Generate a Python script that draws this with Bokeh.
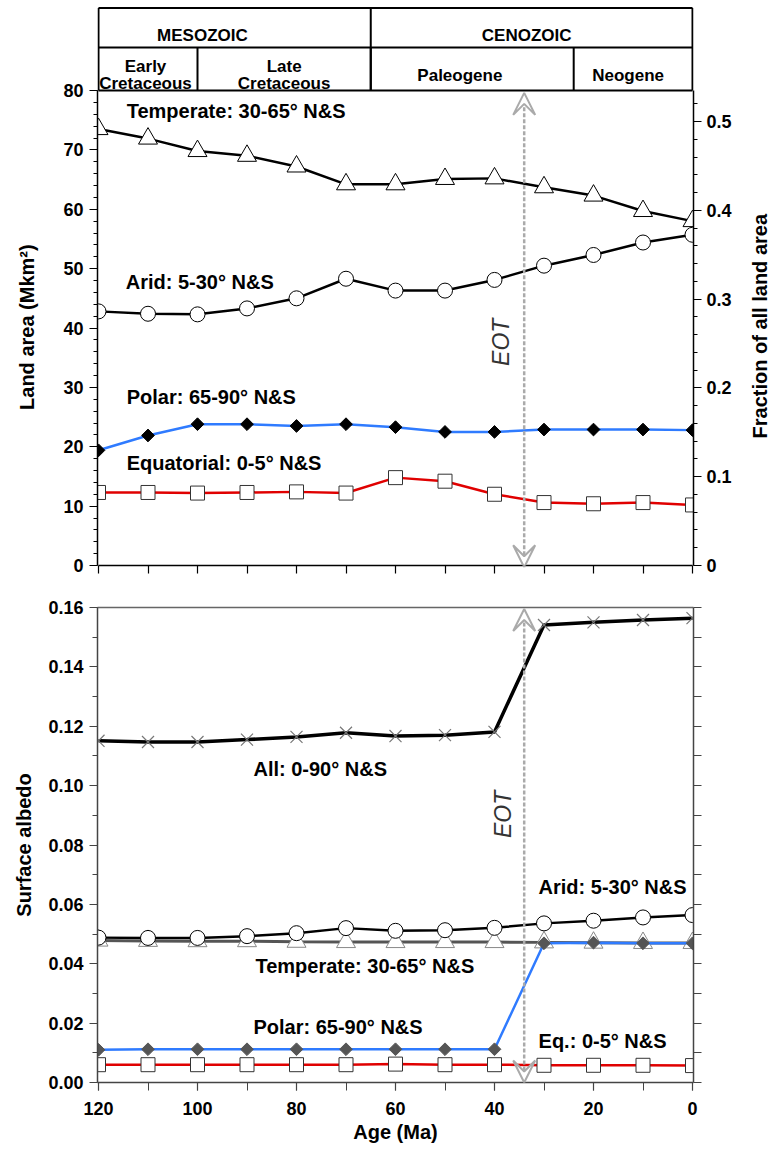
import math
from bokeh.plotting import figure
from bokeh.layouts import column, row
from bokeh.models import (Range1d, LinearAxis, FixedTicker, NumeralTickFormatter,
                          CustomJSTickFormatter, Arrow, VeeHead)
from bokeh.core.properties import value
from bokeh.embed import file_html
from bokeh.resources import INLINE

# ---------------- data ----------------
ages = [120, 110, 100, 90, 80, 70, 60, 50, 40, 30, 20, 10, 0]

# Land area (Mkm2)
area_temperate = [73.5, 71.9, 69.8, 69.0, 67.2, 64.2, 64.2, 65.1, 65.2, 63.7, 62.3, 59.7, 58.0]
area_arid = [42.8, 42.4, 42.3, 43.3, 45.0, 48.3, 46.3, 46.3, 48.1, 50.5, 52.3, 54.4, 55.7]
area_polar = [19.4, 21.9, 23.8, 23.8, 23.5, 23.8, 23.3, 22.5, 22.5, 22.9, 22.9, 22.9, 22.8]
area_equatorial = [12.3, 12.3, 12.2, 12.3, 12.4, 12.2, 14.8, 14.2, 12.0, 10.6, 10.4, 10.6, 10.2]

# Surface albedo
alb_all = [0.1151, 0.1147, 0.1147, 0.1155, 0.1164, 0.1178, 0.1167, 0.1170, 0.1181, 0.1541, 0.1550, 0.1558, 0.1564]
alb_arid = [0.0488, 0.0487, 0.0487, 0.0493, 0.0503, 0.0520, 0.0511, 0.0513, 0.0521, 0.0536, 0.0545, 0.0556, 0.0564]
alb_temperate = [0.0478, 0.0477, 0.0476, 0.0476, 0.0474, 0.0473, 0.0473, 0.0473, 0.0473, 0.0472, 0.0471, 0.0470, 0.0470]
alb_polar = [0.0110, 0.0112, 0.0112, 0.0112, 0.0112, 0.0112, 0.0112, 0.0112, 0.0112, 0.0469, 0.0471, 0.0469, 0.0469]
alb_equatorial = [0.0060, 0.0060, 0.0060, 0.0060, 0.0060, 0.0060, 0.0062, 0.0060, 0.0060, 0.0058, 0.0058, 0.0058, 0.0057]

eot_age = 34

# geological time scale header
era_names = ["MESOZOIC", "CENOZOIC"]
era_label_x = [99.0, 33.5]
era_divider = 65
period_line1 = ["Early", "Late", "Paleogene", "Neogene"]
period_line2 = ["Cretaceous", "Cretaceous", "", ""]
period_label_x = [110.5, 82.5, 47.0, 13.0]
period_dividers = [100, 65, 24]

# right-axis scale: fraction of all land area (0.5 <-> 74.74 Mkm2)
frac_per_area = 0.5 / 74.74

FONT = "Liberation Sans"
W = 770
TOP_H = 595
TL_W, TR_W = 40, 30
PAD = 1 / 4.95
x_lo, x_hi = 120 + PAD, -PAD


def style_axis(ax, color="black"):
    ax.axis_line_color = color
    ax.axis_line_width = 1.5
    ax.major_tick_line_color = color
    ax.minor_tick_line_color = color
    ax.major_tick_line_width = 1.2
    ax.minor_tick_line_width = 1.0
    ax.major_tick_in = 0
    ax.major_tick_out = 8
    ax.minor_tick_in = 0
    ax.minor_tick_out = 4
    ax.major_label_text_font = FONT
    ax.major_label_text_font_style = "bold"
    ax.major_label_text_font_size = "18px"
    ax.major_label_text_color = "black"
    ax.axis_label_text_font = FONT
    ax.axis_label_text_font_style = "bold"
    ax.axis_label_text_font_size = "20px"
    ax.axis_label_text_color = "black"


def title_strip(width, height, tx, ty, text):
    f = figure(width=width, height=height, x_range=Range1d(0, width), y_range=Range1d(0, height),
               output_backend="svg", toolbar_location=None, x_axis_location=None, y_axis_location=None,
               min_border=0, outline_line_color=None, background_fill_color="white",
               border_fill_color="white")
    f.grid.visible = False
    f.text(x=[tx], y=[ty], text=[text], angle=math.pi / 2, text_font=value(FONT),
           text_font_style="bold", text_font_size="20px", text_align="center",
           text_baseline="middle", text_color="black")
    return f


# ---------------- top panel ----------------
y_top_end = 565 / 5.9375
p1 = figure(width=W - TL_W - TR_W, height=TOP_H, x_range=Range1d(x_lo, x_hi), y_range=Range1d(0, y_top_end),
            output_backend="svg", toolbar_location=None,
            min_border_left=97 - TL_W, min_border_right=(W - TR_W) - 693, min_border_top=0, min_border_bottom=30,
            background_fill_color="white", border_fill_color="white", outline_line_color=None)
p1.grid.visible = False

yl = p1.yaxis[0]
style_axis(yl)
yl.ticker = FixedTicker(ticks=list(range(0, 81, 10)), minor_ticks=list(range(0, 81, 2)))
yl.bounds = (0, 80)
yl.major_label_standoff = 6

p1.extra_y_ranges = {"frac": Range1d(0, y_top_end * frac_per_area)}
yr = LinearAxis(y_range_name="frac",
                ticker=FixedTicker(ticks=[0, 0.1, 0.2, 0.3, 0.4, 0.5],
                                   minor_ticks=[round(i * 0.02, 2) for i in range(27)]),
                formatter=NumeralTickFormatter(format="0.[0]"))
style_axis(yr)
yr.bounds = (0, 80 * frac_per_area)
yr.major_label_standoff = 5
p1.add_layout(yr, "right")

xb = p1.xaxis[0]
style_axis(xb)
xb.ticker = FixedTicker(ticks=ages)
xb.bounds = (0, 120)
xb.formatter = CustomJSTickFormatter(code="return '';")
xb.major_label_text_font_size = "0px"

# header lines
y_top_line = 93.89
y_mid_line = 87.24
p1.segment(x0=[120, 120], y0=[y_top_line, y_mid_line], x1=[0, 0], y1=[y_top_line, y_mid_line],
           line_color="black", line_width=2)
p1.segment(x0=[120], y0=[80], x1=[0], y1=[80], line_color="black", line_width=2)
p1.segment(x0=[120, 0, era_divider], y0=[80, 80, 80], x1=[120, 0, era_divider],
           y1=[y_top_line] * 3, line_color="black", line_width=2)
p1.segment(x0=period_dividers, y0=[80] * 3, x1=period_dividers, y1=[y_mid_line] * 3,
           line_color="black", line_width=2)

hdr = dict(text_font=value(FONT), text_font_style="bold", text_font_size="17px",
           text_align="center", text_baseline="alphabetic", text_color="black")
p1.text(x=era_label_x, y=[89.26, 89.26], text=era_names, **hdr)
two = [i for i, t in enumerate(period_line2) if t]
one = [i for i, t in enumerate(period_line2) if not t]
p1.text(x=[period_label_x[i] for i in two], y=[84.04] * len(two), text=[period_line1[i] for i in two], **hdr)
p1.text(x=[period_label_x[i] for i in two], y=[81.18] * len(two), text=[period_line2[i] for i in two], **hdr)
p1.text(x=[period_label_x[i] for i in one], y=[82.53] * len(one), text=[period_line1[i] for i in one], **hdr)


# EOT arrow
def vee():
    return VeeHead(size=22, fill_color="white", line_color="#aaaaaa", line_width=2)


p1.add_layout(Arrow(start=vee(), end=vee(), x_start=eot_age, y_start=-0.3, x_end=eot_age, y_end=79.6,
                    line_color="#aaaaaa", line_width=2.5, line_dash="4 2"))

# series
p1.line(ages, area_temperate, line_color="black", line_width=2.5)
p1.scatter(ages, area_temperate, marker="triangle", size=19, fill_color="white", line_color="black", line_width=1)
p1.line(ages, area_arid, line_color="black", line_width=2.5)
p1.scatter(ages, area_arid, marker="circle", size=15, fill_color="white", line_color="black", line_width=1)
p1.line(ages, area_polar, line_color="#2f7bff", line_width=2.5)
p1.scatter(ages, area_polar, marker="square", angle=math.pi / 4, size=9, fill_color="black", line_color="black")
p1.line(ages, area_equatorial, line_color="#e00000", line_width=2.5)
p1.scatter(ages, area_equatorial, marker="square", size=14, fill_color="white", line_color="#333333", line_width=1)

lab = dict(text_font=value(FONT), text_font_style="bold", text_font_size="20px",
           text_align="left", text_baseline="middle", text_color="black")
p1.text(x=[114.3, 114.5, 114.3, 114.3], y=[76.5, 47.7, 28.3, 17.3],
        text=["Temperate: 30-65° N&S", "Arid: 5-30° N&S", "Polar: 65-90° N&S", "Equatorial: 0-5° N&S"], **lab)
p1.text(x=[38.6], y=[37.6], text=["EOT"], angle=math.pi / 2, text_font=value(FONT),
        text_font_style="italic", text_font_size="23px", text_align="center", text_baseline="middle",
        text_color="#333333")

tl = title_strip(TL_W, TOP_H, 26, TOP_H - 344, "Land area (Mkm²)")
tr = title_strip(TR_W, TOP_H, 759 - (W - TR_W), TOP_H - 343, "Fraction of all land area")

# ---------------- bottom panel ----------------
p2 = figure(width=W, height=555, x_range=Range1d(x_lo, x_hi), y_range=Range1d(0, 0.16),
            output_backend="svg", toolbar_location=None,
            min_border_left=97, min_border_right=W - 693, min_border_top=12, min_border_bottom=68,
            background_fill_color="white", border_fill_color="white", outline_line_color=None)
p2.grid.visible = False

yl2 = p2.yaxis[0]
style_axis(yl2, "#444444")
yl2.ticker = FixedTicker(ticks=[round(i * 0.02, 2) for i in range(9)],
                         minor_ticks=[round(i * 0.01, 2) for i in range(17)])
yl2.formatter = NumeralTickFormatter(format="0.00")
yl2.minor_tick_out = 5
yl2.major_label_standoff = 6
yl2.axis_label = "Surface albedo"
yl2.axis_label_standoff = 10

yr2 = LinearAxis(ticker=FixedTicker(ticks=[round(i * 0.01, 2) for i in range(17)]),
                 formatter=CustomJSTickFormatter(code="return '';"))
style_axis(yr2, "#444444")
yr2.major_label_text_font_size = "0px"
p2.add_layout(yr2, "right")

# top border of the albedo panel
top2 = LinearAxis(ticker=FixedTicker(ticks=[]), formatter=CustomJSTickFormatter(code="return '';"))
style_axis(top2, "#666666")
top2.major_label_text_font_size = "0px"
p2.add_layout(top2, "above")

xb2 = p2.below[0]
style_axis(xb2, "#444444")
xb2.ticker = FixedTicker(ticks=[120, 100, 80, 60, 40, 20, 0], minor_ticks=ages)
xb2.minor_tick_out = 8
xb2.major_label_standoff = 11
xb2.axis_label = "Age (Ma)"
xb2.axis_label_standoff = 3

p2.add_layout(Arrow(start=vee(), end=vee(), x_start=eot_age, y_start=0, x_end=eot_age, y_end=0.1595,
                    line_color="#aaaaaa", line_width=2.5, line_dash="4 2"))

p2.line(ages, alb_temperate, line_color="#555555", line_width=3)
p2.scatter(ages, alb_temperate, marker="triangle", size=19, fill_color="white", line_color="#888888", line_width=1)
p2.line(ages, alb_arid, line_color="black", line_width=2.5)
p2.scatter(ages, alb_arid, marker="circle", size=15, fill_color="white", line_color="black", line_width=1)
p2.line(ages, alb_all, line_color="black", line_width=3.5)
p2.scatter(ages, alb_all, marker="x", size=17, line_color="#777777", line_width=1.2)
p2.line(ages, alb_equatorial, line_color="#e00000", line_width=2.5)
p2.scatter(ages, alb_equatorial, marker="square", size=14, fill_color="white", line_color="#333333", line_width=1)
p2.line(ages, alb_polar, line_color="#2f7bff", line_width=2.5)
p2.scatter(ages, alb_polar, marker="square", angle=math.pi / 4, size=9, fill_color="#555555", line_color="#555555")

p2.text(x=[88.7, 31.1, 88.3, 88.7, 31.1], y=[0.1057, 0.0658, 0.0391, 0.0186, 0.0139],
        text=["All: 0-90° N&S", "Arid: 5-30° N&S", "Temperate: 30-65° N&S", "Polar: 65-90° N&S", "Eq.: 0-5° N&S"],
        **lab)
p2.text(x=[38.2], y=[0.0903], text=["EOT"], angle=math.pi / 2, text_font=value(FONT),
        text_font_style="italic", text_font_size="23px", text_align="center", text_baseline="middle",
        text_color="#333333")

layout = column(row(tl, p1, tr), p2)
open("out.html", "w").write(file_html(layout, INLINE))
